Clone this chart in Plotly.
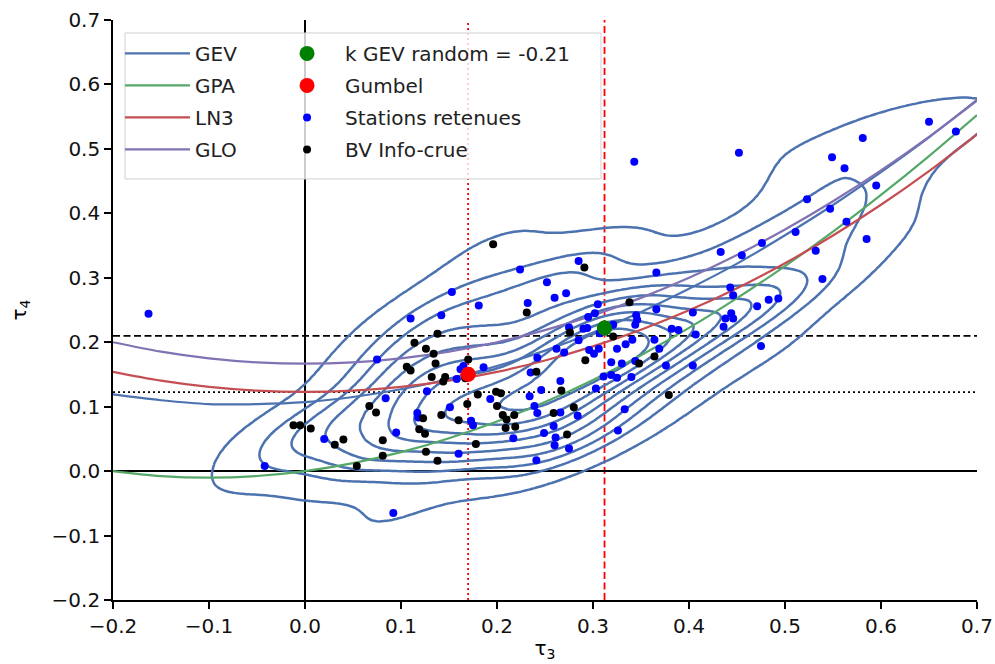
import numpy as np
import plotly.graph_objects as go

# ---------------- data ----------------
tau3_grid = [-0.2, -0.15, -0.1, -0.05, 0.0, 0.05, 0.1, 0.15, 0.2, 0.25, 0.3,
             0.35, 0.4, 0.45, 0.5, 0.55, 0.6, 0.65, 0.7]
gev_tau4 = [0.119, 0.110, 0.104, 0.104, 0.107, 0.115, 0.127, 0.143, 0.163, 0.187,
            0.215, 0.247, 0.283, 0.322, 0.366, 0.413, 0.464, 0.518, 0.576]
gpa_tau4 = [0.0, -0.0077, -0.0102, -0.0076, 0.0, 0.0124, 0.0294, 0.0510, 0.0769,
            0.1071, 0.1415, 0.1799, 0.2222, 0.2684, 0.3182, 0.3716, 0.4286, 0.4889, 0.5526]
ln3_tau4 = [0.1540, 0.1403, 0.1306, 0.1248, 0.1228, 0.1248, 0.1306, 0.1403, 0.1540,
            0.1717, 0.1935, 0.2194, 0.2495, 0.2839, 0.3226, 0.3657, 0.4133, 0.4656, 0.5227]
glo_tau4 = [0.2, 0.1854, 0.175, 0.1688, 0.1667, 0.1688, 0.175, 0.1854, 0.2, 0.2188,
            0.2417, 0.2688, 0.3, 0.3354, 0.375, 0.4188, 0.4667, 0.5188, 0.575]

stations_t3 = [-0.163, -0.042, 0.020, 0.075, 0.084, 0.095, 0.092, 0.127, 0.117, 0.118,
               0.110, 0.142, 0.153, 0.181, 0.224, 0.252, 0.232, 0.260, 0.272, 0.285,
               0.151, 0.193, 0.173, 0.175, 0.217, 0.160, 0.162, 0.165, 0.158, 0.186,
               0.235, 0.242, 0.262, 0.270, 0.285, 0.266, 0.246, 0.234, 0.239, 0.242,
               0.266, 0.284, 0.259, 0.249, 0.261, 0.260, 0.275, 0.241, 0.305, 0.295,
               0.302, 0.345, 0.346, 0.344, 0.275, 0.290, 0.294, 0.321, 0.307, 0.334,
               0.341, 0.296, 0.301, 0.306, 0.325, 0.319, 0.330, 0.344, 0.311, 0.319,
               0.325, 0.340, 0.303, 0.333, 0.326, 0.343, 0.452, 0.433, 0.455, 0.366,
               0.366, 0.404, 0.443, 0.446, 0.444, 0.438, 0.446, 0.436, 0.382, 0.389,
               0.650, 0.678, 0.581, 0.549, 0.562, 0.595, 0.523, 0.547, 0.564, 0.511,
               0.585, 0.476, 0.532, 0.539, 0.471, 0.483, 0.493, 0.475, 0.407, 0.364,
               0.369, 0.376, 0.404]
stations_t4 = [0.244, 0.008, 0.050, 0.173, 0.113, 0.060, -0.065, 0.124, 0.090, 0.083,
               0.237, 0.242, 0.278, 0.257, 0.313, 0.293, 0.261, 0.269, 0.276, 0.326,
               0.099, 0.112, 0.078, 0.071, 0.051, 0.027, 0.158, 0.163, 0.143, 0.161,
               0.153, 0.176, 0.190, 0.184, 0.203, 0.140, 0.126, 0.116, 0.101, 0.090,
               0.091, 0.086, 0.070, 0.059, 0.052, 0.040, 0.035, 0.017, 0.259, 0.239,
               0.245, 0.242, 0.235, 0.227, 0.223, 0.221, 0.222, 0.227, 0.214, 0.197,
               0.204, 0.188, 0.182, 0.190, 0.190, 0.169, 0.167, 0.171, 0.147, 0.149,
               0.145, 0.146, 0.128, 0.096, 0.063, 0.480, 0.494, 0.340, 0.335, 0.308,
               0.251, 0.246, 0.285, 0.273, 0.245, 0.237, 0.237, 0.224, 0.221, 0.219,
               0.542, 0.527, 0.517, 0.487, 0.470, 0.443, 0.422, 0.407, 0.387, 0.371,
               0.360, 0.354, 0.342, 0.298, 0.256, 0.266, 0.268, 0.194, 0.212, 0.204,
               0.190, 0.164, 0.164]

bv_t3 = [-0.012, -0.005, 0.006, 0.031, 0.040, 0.054, 0.067, 0.074, 0.081, 0.081,
         0.114, 0.126, 0.134, 0.138, 0.106, 0.110, 0.136, 0.123, 0.119, 0.125,
         0.126, 0.132, 0.146, 0.144, 0.142, 0.160, 0.169, 0.180, 0.199, 0.204,
         0.200, 0.206, 0.210, 0.218, 0.209, 0.219, 0.178, 0.138, 0.170, 0.167,
         0.241, 0.276, 0.292, 0.267, 0.259, 0.280, 0.273, 0.196, 0.231, 0.291,
         0.338, 0.321, 0.348, 0.364, 0.379]
bv_t4 = [0.071, 0.071, 0.066, 0.041, 0.049, 0.008, 0.101, 0.091, 0.048, 0.024,
         0.199, 0.190, 0.182, 0.213, 0.162, 0.156, 0.167, 0.082, 0.065, 0.058,
         0.030, 0.146, 0.146, 0.139, 0.087, 0.079, 0.104, 0.119, 0.123, 0.121,
         0.101, 0.087, 0.080, 0.087, 0.067, 0.069, 0.042, 0.016, 0.173, 0.144,
         0.154, 0.215, 0.172, 0.125, 0.090, 0.099, 0.057, 0.352, 0.246, 0.316,
         0.262, 0.209, 0.167, 0.178, 0.118]

kgev_point = (0.312, 0.222)      # k GEV random = -0.21
gumbel_point = (0.1699, 0.1504)
vline_dashed_t3 = 0.312
vline_dotted_t3 = 0.1699
hline_dashed_t4 = 0.21
hline_dotted_t4 = 0.1226

# ---------------- KDE of the plotted stations ----------------
bw_adjust = 0.85
pts = np.vstack([np.array(stations_t3 + bv_t3), np.array(stations_t4 + bv_t4)])
n = pts.shape[1]
factor = n ** (-1.0 / 6.0) * bw_adjust
kcov = np.cov(pts) * factor ** 2
inv = np.linalg.inv(kcov)
bw = np.sqrt(np.diag(kcov))
gx = np.linspace(pts[0].min() - 3 * bw[0], pts[0].max() + 3 * bw[0], 220)
gy = np.linspace(pts[1].min() - 3 * bw[1], pts[1].max() + 3 * bw[1], 220)
GX, GY = np.meshgrid(gx, gy)
dens = np.zeros_like(GX)
for i in range(n):
    dx = GX - pts[0, i]
    dy = GY - pts[1, i]
    q = inv[0, 0] * dx * dx + 2 * inv[0, 1] * dx * dy + inv[1, 1] * dy * dy
    dens += np.exp(-0.5 * q)
flat = dens.ravel()
order = np.argsort(flat)[::-1]
cum = np.cumsum(flat[order]) / flat.sum()
zp = np.empty_like(flat)
zp[order] = 1 - cum
zp = zp.reshape(dens.shape)

# ---------------- figure ----------------
FONT = "DejaVu Sans"
FS = 20
fig = go.Figure()

curve_cols = {"GEV": "#4c72b0", "GPA": "#55a868", "LN3": "#c44e52", "GLO": "#8172b3"}
for name, vals in [("GEV", gev_tau4), ("GPA", gpa_tau4), ("LN3", ln3_tau4), ("GLO", glo_tau4)]:
    fig.add_trace(go.Scatter(x=tau3_grid, y=vals, mode="lines", name=name,
                             line=dict(color=curve_cols[name], width=2.2, shape="spline"),
                             legend="legend", legendgroup=name))

fig.add_trace(go.Contour(x=gx, y=gy, z=zp, showscale=False, showlegend=False,
                         contours=dict(coloring="lines", start=0.05, end=0.9, size=0.95 / 9),
                         colorscale=[[0, "#4c72b0"], [1, "#4c72b0"]],
                         line=dict(width=2.5), hoverinfo="skip"))

fig.add_trace(go.Scatter(x=[kgev_point[0]], y=[kgev_point[1]], mode="markers",
                         name="k GEV random = -0.21", legend="legend2", legendgroup="a",
                         marker=dict(color="green", size=15)))
fig.add_trace(go.Scatter(x=[gumbel_point[0]], y=[gumbel_point[1]], mode="markers",
                         name="Gumbel", legend="legend2", legendgroup="b",
                         marker=dict(color="red", size=15)))
fig.add_trace(go.Scatter(x=stations_t3, y=stations_t4, mode="markers",
                         name="Stations retenues", legend="legend2", legendgroup="c",
                         marker=dict(color="blue", size=8)))
fig.add_trace(go.Scatter(x=bv_t3, y=bv_t4, mode="markers",
                         name="BV Info-crue", legend="legend2", legendgroup="d",
                         marker=dict(color="black", size=8)))
# keep green/red on top
fig.add_trace(go.Scatter(x=[kgev_point[0]], y=[kgev_point[1]], mode="markers", showlegend=False,
                         marker=dict(color="green", size=15)))
fig.add_trace(go.Scatter(x=[gumbel_point[0]], y=[gumbel_point[1]], mode="markers", showlegend=False,
                         marker=dict(color="red", size=15)))

shapes = [
    dict(type="line", xref="x", yref="paper", x0=vline_dashed_t3, x1=vline_dashed_t3, y0=0, y1=1,
         line=dict(color="red", width=1.8, dash="7px,3.5px"), layer="below"),
    dict(type="line", xref="x", yref="paper", x0=vline_dotted_t3, x1=vline_dotted_t3, y0=0, y1=1,
         line=dict(color="red", width=1.8, dash="2px,3px"), layer="below"),
    dict(type="line", xref="paper", yref="y", x0=0, x1=1, y0=hline_dashed_t4, y1=hline_dashed_t4,
         line=dict(color="black", width=1.8, dash="7px,3.5px"), layer="below"),
    dict(type="line", xref="paper", yref="y", x0=0, x1=1, y0=hline_dotted_t4, y1=hline_dotted_t4,
         line=dict(color="black", width=1.8, dash="2px,3px"), layer="below"),
    # legend frame
    dict(type="rect", xref="paper", yref="paper", x0=0.0139, x1=0.5648, y0=0.7259, y1=0.9776,
         line=dict(color="#d0d0d0", width=1), fillcolor="rgba(255,255,255,0.8)", layer="above"),
]

L, R, T, B = 113, 18, 20, 64
axis_common = dict(range=[-0.2, 0.7], dtick=0.1, tick0=-0.2, tickformat=".1f",
                   showgrid=False, zeroline=True, zerolinecolor="black", zerolinewidth=1.8,
                   showline=True, linecolor="black", linewidth=1.6, mirror=False,
                   ticks="outside", ticklen=7, tickwidth=1.6, tickcolor="black",
                   automargin=False,
                   tickfont=dict(family=FONT, size=FS, color="#111"))
fig.update_layout(
    width=995, height=664,
    margin=dict(l=L, r=R, t=T, b=B, autoexpand=False),
    paper_bgcolor="white", plot_bgcolor="white",
    font=dict(family=FONT, size=FS, color="black"),
    shapes=shapes,
    showlegend=True,
    legend=dict(x=0.0081, y=0.976, xanchor="left", yanchor="top", bgcolor="rgba(0,0,0,0)",
                borderwidth=0, font=dict(family=FONT, size=FS, color="#222"),
                tracegroupgap=3, itemwidth=65),
    legend2=dict(x=0.1806, y=0.976, xanchor="left", yanchor="top", bgcolor="rgba(0,0,0,0)",
                 borderwidth=0, font=dict(family=FONT, size=FS, color="#222"),
                 tracegroupgap=3, itemwidth=66),
    xaxis=dict(**axis_common,
               title=dict(text="τ<sub>3</sub>", font=dict(family=FONT, size=FS), standoff=4)),
    yaxis=dict(**axis_common,
               title=dict(text="τ<sub>4</sub>", font=dict(family=FONT, size=FS), standoff=20)),
)

fig.write_html("out.html")
